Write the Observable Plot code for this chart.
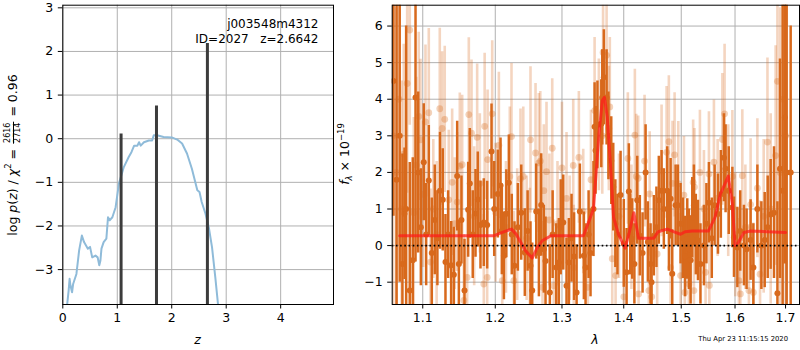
<!DOCTYPE html>
<html>
<head>
<meta charset="utf-8">
<script src="https://cdn.jsdelivr.net/npm/d3@7"></script>
<script src="https://cdn.jsdelivr.net/npm/@observablehq/plot@0.6"></script>
<style>
  body { margin: 0; background: white; }
  #wrap { position: relative; width: 800px; height: 350px; background: white; font-family: "DejaVu Sans", sans-serif; color: black; overflow: hidden; }
  .chart { position: absolute; top: 0; }
  .lab { position: absolute; white-space: nowrap; font-size: 12.5px; line-height: 1; }
  .rot { transform: translate(-50%, -50%) rotate(-90deg); }
  .ctr { transform: translate(-50%, -50%); }
  .frac { display: inline-block; vertical-align: middle; text-align: center; font-size: 8px; line-height: 1; margin: 0 1px; }
  .frac .num { display: block; border-bottom: 0.8px solid black; padding: 0 1px 0.5px; }
  .frac .den { display: block; padding-top: 0.5px; }
  sup, sub { font-size: 8.5px; line-height: 0; }
  #stamp { position: absolute; right: 12px; top: 335px; font-size: 6.8px; white-space: nowrap; }
</style>
</head>
<body>
<div id="wrap">
  <div id="left" class="chart" style="left:0"></div>
  <div id="right" class="chart" style="left:335px"></div>
  <div class="lab rot" style="left:13px; top:155px">log <i>p</i>(<i>z</i>) / <i>χ</i><sup>2</sup> = <span class="frac"><span class="num">2616</span><span class="den">2714</span></span> = 0.96</div>
  <div class="lab rot" style="left:345px; top:154px"><i>f</i><sub><i>λ</i></sub> × 10<sup>−19</sup></div>
  <div class="lab ctr" style="left:197.6px; top:340px"><i>z</i></div>
  <div class="lab ctr" style="left:595px; top:340px"><i>λ</i></div>
  <div id="stamp">Thu Apr 23 11:15:15 2020</div>
</div>
<script>
// ---------- left panel: log p(z) ----------
const zGrid = [0.05,0.08,0.107,0.125,0.14,0.17,0.19,0.25,0.30,0.35,
  0.39,0.46,0.50,0.54,0.60,0.64,0.67,0.69,0.71,0.75,
  0.80,0.83,0.86,0.91,0.97,1.03,1.12,1.21,1.26,1.31,
  1.37,1.40,1.43,1.49,1.58,1.64,1.67,1.73,1.85,2.0,
  2.1,2.19,2.28,2.37,2.47,2.51,2.55,2.62,2.68,2.74,
  2.80,2.85,2.88];
const logPz = [-4.3,-3.8,-3.48,-3.21,-3.36,-3.52,-3.33,-3.1,-2.56,-2.22,
  -2.37,-2.52,-2.48,-2.72,-2.68,-2.72,-2.9,-2.8,-2.52,-2.37,
  -2.29,-1.8,-1.87,-1.8,-1.57,-1.03,-0.65,-0.42,-0.31,-0.16,
  -0.16,-0.08,-0.16,-0.08,-0.04,-0.04,0.08,0.08,0.04,0.03,
  -0.02,-0.11,-0.34,-0.69,-1.18,-1.22,-1.45,-1.72,-2.03,-2.49,
  -3.18,-3.8,-4.2];
const peakZ = [1.07, 1.72, 2.655];
const peakLogP = [0.11, 0.75, 2.18];
const annotation = "j003548m4312\nID=2027\u00a0\u00a0\u00a0z=2.6642";
const xTicksL = [0, 1, 2, 3, 4];
const yTicksL = [-3, -2, -1, 0, 1, 2, 3];
const xDomL = [0, 4.97];
const yDomL = [-3.8, 3.06];

// ---------- right panel: spectrum ----------
const darkLam = [1.062,1.066,1.070,1.0735,1.0762,1.0783,1.083,1.0869,1.0905,1.094,
  1.0975,1.1013,1.1045,1.108,1.112,1.116,1.1195,1.123,1.1267,1.1304,
  1.134,1.1381,1.1418,1.1464,1.1487,1.1523,1.1565,1.1616,1.1639,1.168,
  1.1719,1.1751,1.1789,1.1836,1.1884,1.1946,1.1985,1.2037,1.2076,1.2095,
  1.2125,1.216,1.2197,1.224,1.228,1.233,1.238,1.2433,1.2475,1.2518,
  1.2544,1.2605,1.2645,1.268,1.272,1.2746,1.2812,1.2855,1.2911,1.2951,
  1.298,1.302,1.3071,1.3108,1.315,1.319,1.323,1.3282,1.3346,1.3373,
  1.3422,1.3453,1.3501,1.3519,1.3535,1.3565,1.3628,1.3644,1.367,1.3715,
  1.3745,1.3792,1.3825,1.386,1.3895,1.3947,1.4001,1.4048,1.4086,1.411,
  1.4144,1.418,1.4229,1.4273,1.432,1.4372,1.4411,1.4458,1.4475,1.4515,
  1.456,1.4602,1.465,1.469,1.475,1.478,1.481,1.4839,1.4899,1.494,
  1.4988,1.503,1.507,1.5109,1.5139,1.517,1.52,1.523,1.5265,1.5304,
  1.535,1.5414,1.546,1.5507,1.556,1.5613,1.5676,1.573,1.5788,1.582,
  1.588,1.5949,1.598,1.6045,1.61,1.6172,1.6224,1.6302,1.6356,1.6435,
  1.6514,1.658,1.664,1.6699,1.6766,1.6835,1.6887,1.6941,1.6985,1.7023,
  1.7105];
const darkFlux = [4.5,1.8,3.0,-0.5,0.87,1.0,-1.23,-0.4,4.05,2.0,
  0.5,2.28,0.3,1.78,-0.2,0.7,0.2,1.5,1.25,-0.45,
  0.3,-0.54,-0.8,1.9,-0.5,0.7,-1.23,0.98,1.7,0.3,
  0.88,1.26,0.56,0.63,0.56,2.57,1.0,1.41,1.64,0.4,
  -0.28,0.87,1.72,0.3,-0.55,0.5,0.9,-0.19,0.4,-0.55,
  -1.23,0.93,-0.2,1.11,-0.1,-0.42,-1.28,0.3,-0.6,-0.46,
  0.5,0.63,-1.1,-0.46,0.2,-0.3,-1.28,0.93,-0.28,-0.6,
  0.3,-0.2,1.0,3.25,2.6,3.3,3.33,4.05,4.6,4.05,
  3.0,2.32,1.6,0.6,0.3,1.38,0.06,-0.73,1.48,0.3,
  0.18,-0.5,1.24,0.27,-0.2,2.0,0.1,-0.5,-1.0,0.27,
  0.5,1.24,1.5,1.0,1.5,0.4,1.28,-0.77,1.1,1.1,
  0.6,0.2,-0.3,0.18,-0.1,-0.4,0.76,1.1,0.3,0.14,
  -0.5,0.0,0.6,1.17,0.2,1.1,0.86,1.4,2.4,2.1,
  1.5,1.04,0.23,-0.05,0.4,0.0,-0.1,0.15,-0.6,1.0,
  0.0,0.15,0.5,0.85,0.9,-1.3,2.1,1.5,3.5,2.0,
  2.0];
const darkErr = [3.7,5.5,4.0,3.0,1.8,5.0,3.5,2.8,4.5,2.2,
  1.6,1.6,1.4,1.5,1.5,1.5,1.3,1.6,1.4,1.3,
  1.2,1.2,1.3,1.5,1.2,1.2,1.4,1.3,1.5,1.2,
  1.2,1.3,1.2,1.2,1.2,1.3,1.3,1.2,1.3,1.2,
  1.2,1.2,1.3,1.1,1.2,1.2,1.3,1.2,1.1,1.2,
  1.3,1.3,1.2,1.4,1.2,1.2,1.3,1.2,1.2,1.2,
  1.3,1.3,1.3,1.2,1.2,1.2,1.3,1.3,1.2,1.2,
  1.2,1.2,1.3,1.2,1.2,1.2,1.2,1.3,1.3,1.3,
  1.2,1.2,1.2,1.2,1.1,1.2,1.2,1.2,1.3,1.1,
  1.1,1.1,1.2,1.1,1.1,1.3,1.1,1.1,1.2,1.1,
  1.1,1.2,1.1,1.1,1.2,1.1,1.1,1.2,1.1,1.1,
  1.1,1.1,1.1,1.1,1.1,1.2,1.1,1.1,1.1,1.1,
  1.1,1.1,1.1,1.1,1.1,1.1,1.1,1.2,1.2,1.2,
  1.2,1.1,1.1,1.1,1.1,1.1,1.1,1.1,1.2,1.2,
  1.2,1.3,1.4,1.5,1.8,2.5,3.0,5.5,4.0,6.0,
  4.0];

const lightLam = [1.0615,1.0655,1.069,1.0725,1.0752,1.0796,1.083,1.0882,1.0915,1.0947,
  1.097,1.1005,1.1036,1.108,1.1103,1.114,1.1185,1.1227,1.1259,1.1294,
  1.1349,1.1395,1.143,1.1464,1.15,1.1533,1.1556,1.1602,1.1625,1.1663,
  1.170,1.1742,1.178,1.1836,1.1848,1.1884,1.189,1.1956,1.2005,1.2052,
  1.2101,1.2155,1.2211,1.2236,1.227,1.232,1.2369,1.241,1.246,1.2508,
  1.2518,1.2594,1.2644,1.2666,1.27,1.272,1.2761,1.2805,1.2849,1.2873,
  1.293,1.3,1.3071,1.312,1.3177,1.3185,1.3266,1.3336,1.341,1.346,
  1.3519,1.3588,1.3644,1.3657,1.3715,1.3752,1.3768,1.3808,1.3864,1.392,
  1.4001,1.4069,1.413,1.4188,1.4212,1.4245,1.4252,1.4354,1.4428,1.4443,
  1.4478,1.4573,1.465,1.4739,1.4779,1.481,1.4844,1.4881,1.4947,1.4988,
  1.5049,1.5064,1.5139,1.5216,1.523,1.524,1.534,1.5414,1.5445,1.5507,
  1.5515,1.56,1.567,1.5759,1.5801,1.587,1.5949,1.6005,1.6075,1.6103,
  1.6141,1.62,1.6269,1.6302,1.6356,1.6435,1.6488,1.656,1.6635,1.67,
  1.6799,1.6835,1.689,1.695,1.700];
const lightFlux = [3.0,2.0,4.0,1.0,2.5,4.43,5.89,0.9,2.2,3.53,
  2.89,1.4,3.38,3.63,-0.45,1.0,0.3,3.74,3.2,3.45,
  1.25,1.73,0.6,1.19,2.17,2.21,-1.5,-0.87,3.58,3.07,
  0.8,2.96,1.7,-1.05,3.26,-0.87,2.35,3.6,0.9,2.74,
  -0.96,0.5,1.89,2.98,-0.96,0.3,1.83,1.89,0.2,-0.23,
  2.89,2.53,2.26,2.31,-1.14,1.5,2.02,0.7,2.66,-1.1,
  0.6,2.12,1.29,0.2,2.19,-0.6,2.41,0.93,-1.14,1.8,
  3.69,3.3,3.0,5.28,5.2,3.2,3.79,-0.36,-0.82,0.8,
  -1.4,2.38,0.5,3.02,1.89,1.84,-1.32,2.31,-1.23,1.41,
  -1.4,-0.23,2.04,2.55,2.84,-0.6,1.7,2.48,1.69,-0.82,
  1.38,-1.28,-1.05,1.73,-1.23,1.6,2.0,1.0,-0.73,1.96,
  -1.09,2.28,1.3,2.9,3.6,1.5,1.89,0.3,-0.96,-1.32,
  1.91,0.5,-1.23,1.12,-1.28,1.57,-0.78,0.8,2.83,1.0,
  2.46,4.49,2.0,4.0,3.0];
const lightErr = [5.0,4.5,4.0,3.5,3.0,3.0,2.6,2.6,2.4,2.3,
  2.2,2.0,2.1,2.3,2.0,1.9,2.0,2.2,2.1,2.0,
  1.9,2.0,1.8,1.9,2.0,1.9,1.8,1.9,2.1,2.0,
  1.9,2.0,1.9,1.9,2.0,1.8,1.9,2.0,1.9,2.0,
  1.9,1.8,1.9,2.0,1.9,1.8,1.9,1.9,1.7,1.8,
  2.0,1.9,1.9,1.9,1.8,1.8,1.9,1.8,1.9,1.8,
  1.7,1.8,1.8,1.7,1.8,1.7,1.8,1.7,1.8,1.9,
  2.0,1.8,1.6,1.5,1.4,1.7,1.9,1.8,1.8,1.7,
  1.8,1.8,1.7,1.8,1.7,1.7,1.6,1.8,1.7,1.7,
  1.6,1.7,1.8,1.8,1.8,1.7,1.7,1.7,1.7,1.7,
  1.6,1.7,1.6,1.7,1.6,1.6,1.7,1.6,1.6,1.7,
  1.6,1.7,1.6,1.8,1.9,1.8,1.8,1.7,1.7,1.7,
  1.8,1.7,1.8,1.8,1.9,1.9,2.0,2.1,2.3,2.6,
  3.0,3.5,4.5,4.5,5.0];

const modelLam = [1.070,1.1985,1.2101,1.2236,1.2305,1.2444,1.2544,1.2622,1.27,1.283,
  1.334,1.3422,1.3501,1.3535,1.359,1.3644,1.368,1.3725,1.3768,1.383,
  1.3912,1.4023,1.4086,1.4171,1.4252,1.431,1.4513,1.459,1.475,1.486,
  1.4988,1.507,1.52,1.55,1.562,1.5719,1.5872,1.5949,1.6,1.6057,
  1.6172,1.6302,1.7];
const modelFlux = [0.27,0.27,0.36,0.45,0.31,-0.14,-0.34,-0.05,0.14,0.27,
  0.27,0.64,1.0,1.78,3.05,3.96,4.05,3.51,2.5,0.77,
  0.31,-0.07,0.31,0.9,0.2,0.2,0.2,0.38,0.45,0.38,
  0.31,0.38,0.4,0.4,0.77,1.4,1.9,1.13,0.0,0.07,
  0.36,0.4,0.36];

const xTicksR = [1.1, 1.2, 1.3, 1.4, 1.5, 1.6, 1.7];
const yTicksR = [-1, 0, 1, 2, 3, 4, 5, 6];
const xDomR = [1.0604, 1.7287];
const yDomR = [-1.61, 6.57];

// ---------- build tables ----------
function check(a, b, c, name) {
  if (a.length !== b.length || (c && a.length !== c.length))
    throw new Error(name + " length mismatch " + a.length + " " + b.length + " " + (c ? c.length : ""));
}
check(darkLam, darkFlux, darkErr, "dark");
check(lightLam, lightFlux, lightErr, "light");
check(modelLam, modelFlux, null, "model");
check(zGrid, logPz, null, "pz");

const pz = zGrid.map((z, i) => ({z, lp: logPz[i]}));
const peaks = peakZ.map((z, i) => ({z, lp: peakLogP[i]}));
const dark = darkLam.map((l, i) => ({l, f: darkFlux[i], e: darkErr[i]}));
const light = lightLam.map((l, i) => ({l, f: lightFlux[i], e: lightErr[i]}));
const model = modelLam.map((l, i) => ({l, f: modelFlux[i]}));

const ORANGE = "#d8691c";
const GRID = "#b0b0b0";
const style = {fontFamily: "DejaVu Sans, sans-serif", fontSize: "12.5px", color: "black", background: "transparent", overflow: "visible"};
const fmtInt = d3.format("d");

const left = Plot.plot({
  width: 340, height: 350,
  marginLeft: 62.3, marginRight: 7, marginTop: 4.7, marginBottom: 46,
  style,
  x: {domain: xDomL},
  y: {domain: yDomL},
  marks: [
    Plot.gridX(xTicksL, {stroke: GRID, strokeOpacity: 1, strokeWidth: 1}),
    Plot.gridY(yTicksL, {stroke: GRID, strokeOpacity: 1, strokeWidth: 1}),
    Plot.line(pz, {x: "z", y: "lp", stroke: "#8fbbd9", strokeWidth: 2, clip: true}),
    Plot.ruleX(peaks, {x: "z", y1: () => yDomL[0], y2: "lp", stroke: "#3c3c3c", strokeWidth: 3, clip: true}),
    Plot.text([annotation], {frameAnchor: "top-right", textAnchor: "end", dx: -15, dy: 11.5, fontSize: 12, lineHeight: 1.28, fill: "black"}),
    Plot.axisX(xTicksL, {tickSize: 4.5, tickPadding: 4, tickFormat: fmtInt, label: null}),
    Plot.axisY(yTicksL, {tickSize: 4.5, tickPadding: 5, tickFormat: fmtInt, label: null}),
    Plot.frame({stroke: "black", strokeWidth: 1})
  ]
});
document.getElementById("left").appendChild(left);

const right = Plot.plot({
  width: 465, height: 350,
  marginLeft: 56.7, marginRight: 1, marginTop: 4.7, marginBottom: 46,
  style,
  x: {type: "log", domain: xDomR},
  y: {domain: yDomR},
  marks: [
    Plot.gridX(xTicksR, {stroke: GRID, strokeOpacity: 1, strokeWidth: 1}),
    Plot.gridY(yTicksR, {stroke: GRID, strokeOpacity: 1, strokeWidth: 1}),
    Plot.ruleX(light, {x: "l", y1: d => d.f - d.e, y2: d => d.f + d.e, stroke: ORANGE, strokeOpacity: 0.28, strokeWidth: 2.6, clip: true}),
    Plot.dot(light, {x: "l", y: "f", r: 3.4, fill: ORANGE, fillOpacity: 0.3, clip: true}),
    Plot.ruleX(dark, {x: "l", y1: d => d.f - d.e, y2: d => d.f + d.e, stroke: ORANGE, strokeWidth: 2.5, clip: true}),
    Plot.dot(dark, {x: "l", y: "f", r: 3, fill: ORANGE, clip: true}),
    Plot.line(model, {x: "l", y: "f", stroke: "#ff1a1a", strokeOpacity: 0.72, strokeWidth: 3, clip: true}),
    Plot.ruleY([0], {stroke: "black", strokeWidth: 1.6, strokeDasharray: "1.6,2.6"}),
    Plot.axisX(xTicksR, {tickSize: 4.5, tickPadding: 4, tickFormat: d3.format(".1f"), label: null}),
    Plot.axisY(yTicksR, {tickSize: 4.5, tickPadding: 5, tickFormat: fmtInt, label: null}),
    Plot.frame({stroke: "black", strokeWidth: 1})
  ]
});
document.getElementById("right").appendChild(right);
</script>
</body>
</html>
